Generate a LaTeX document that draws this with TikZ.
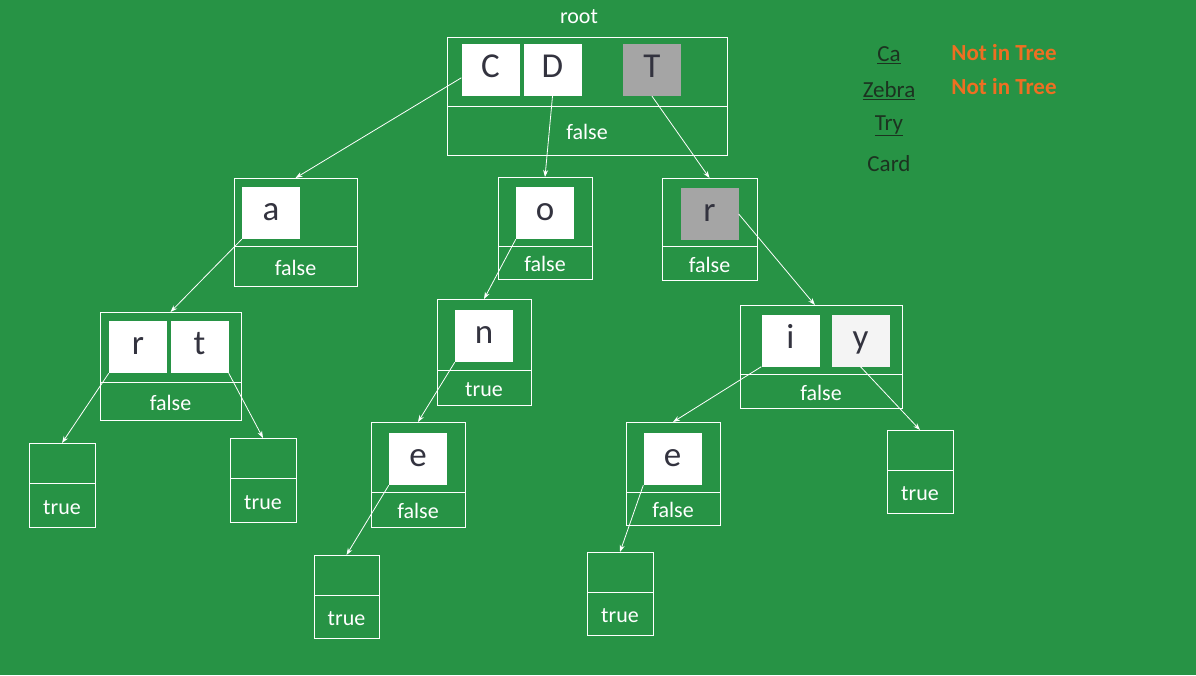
\documentclass[tikz,border=0pt]{standalone}
\usepackage{fontspec}
\setmainfont{Carlito}
\usepackage{xcolor}
\usetikzlibrary{positioning,arrows.meta}
\definecolor{board}{HTML}{279345}
\definecolor{ink}{HTML}{33333F}
\definecolor{ink2}{HTML}{1C3320}
\definecolor{seen}{HTML}{A5A5A5}
\definecolor{pale}{HTML}{F4F4F4}
\definecolor{miss}{HTML}{EE6F22}

\begin{document}
\begin{tikzpicture}[x=1pt, y=-1pt, >={Stealth[length=7pt,width=5pt]},
  cell/.style = {draw=white, line width=0.8pt, outer sep=0pt, inner sep=0pt},
  flag/.style = {cell, text=white, text height=18pt, text depth=0pt, font=\fontsize{22}{24}\selectfont},
  key/.style = {fill=white, text=ink, minimum width=58pt, minimum height=52pt, text height=22pt, text depth=7pt, font=\fontsize{35}{38}\selectfont},
  word/.style = {text=ink2, font=\fontsize{23}{25}\selectfont},
  link/.style = {->, draw=white, line width=0.8pt}]
\fill[board] (0,0) rectangle (1196,675);

% trie nodes: upper cell for keys, lower cell for the end flag
\node[cell, minimum width=280pt, minimum height=69pt] (root) at (587,71.5) {};
\node[flag, minimum width=280pt, minimum height=49pt, below=0pt of root] (rootf) {false};
\node[text=white, font=\fontsize{22}{24}\selectfont] (rootl) at (579,17) {root};

\node[cell, minimum width=123pt, minimum height=68pt] (a) at (295.5,212) {};
\node[flag, minimum width=123pt, minimum height=40pt, below=0pt of a] (af) {false};
\node[cell, minimum width=94pt, minimum height=69pt] (o) at (545,211.5) {};
\node[flag, minimum width=94pt, minimum height=33pt, below=0pt of o] (of) {false};
\node[cell, minimum width=95pt, minimum height=68pt] (r) at (709.5,212) {};
\node[flag, minimum width=95pt, minimum height=34pt, below=0pt of r] (rf) {false};

\node[cell, minimum width=141pt, minimum height=70pt] (rt) at (170.5,347) {};
\node[flag, minimum width=141pt, minimum height=38pt, below=0pt of rt] (rtf) {false};
\node[cell, minimum width=94pt, minimum height=71pt] (n) at (484,334.5) {};
\node[flag, minimum width=94pt, minimum height=35pt, below=0pt of n] (nf) {true};
\node[cell, minimum width=162pt, minimum height=69pt] (iy) at (821,339.5) {};
\node[flag, minimum width=162pt, minimum height=34pt, below=0pt of iy] (iyf) {false};

\node[cell, minimum width=94pt, minimum height=70pt] (e1) at (418,457) {};
\node[flag, minimum width=94pt, minimum height=35pt, below=0pt of e1] (e1f) {false};
\node[cell, minimum width=94pt, minimum height=70pt] (e2) at (673,457) {};
\node[flag, minimum width=94pt, minimum height=33pt, below=0pt of e2] (e2f) {false};

% leaves
\node[cell, minimum width=66pt, minimum height=40pt] (t1) at (62,463) {};
\node[flag, minimum width=66pt, minimum height=44pt, below=0pt of t1] (t1f) {true};
\node[cell, minimum width=66pt, minimum height=40pt] (t2) at (263,458) {};
\node[flag, minimum width=66pt, minimum height=44pt, below=0pt of t2] (t2f) {true};
\node[cell, minimum width=65pt, minimum height=40pt] (t3) at (346.5,575) {};
\node[flag, minimum width=65pt, minimum height=43pt, below=0pt of t3] (t3f) {true};
\node[cell, minimum width=66pt, minimum height=40pt] (t4) at (620,572) {};
\node[flag, minimum width=66pt, minimum height=43pt, below=0pt of t4] (t4f) {true};
\node[cell, minimum width=66pt, minimum height=40pt] (t5) at (920,450) {};
\node[flag, minimum width=66pt, minimum height=43pt, below=0pt of t5] (t5f) {true};

% keys
\node[key] (kC) at (490.5,70) {C};
\node[key] (kD) at (552.5,70) {D};
\node[key, fill=seen] (kT) at (652,70) {T};
\node[key] (ka) at (271,213) {a};
\node[key] (ko) at (545,213) {o};
\node[key, fill=seen] (kr) at (709.5,214) {r};
\node[key] (kr2) at (138,347) {r};
\node[key] (kt) at (199.5,347) {t};
\node[key] (kn) at (484,336) {n};
\node[key] (ki) at (790.5,340.5) {i};
\node[key, fill=pale] (ky) at (860.5,340.5) {y};
\node[key] (ke1) at (418,459) {e};
\node[key] (ke2) at (672.5,459) {e};

\draw[link] (kC.195) -- (a.north);
\draw[link] (kD.south) -- (o.north);
\draw[link] (kT.south) -- (r.north);
\draw[link] (ka.south west) -- (rt.north);
\draw[link] (ko.south west) -- (n.north);
\draw[link] (kr.east) -- (iy.100);
\draw[link] (kr2.south west) -- (t1.north);
\draw[link] (kt.south east) -- (t2.north);
\draw[link] (kn.south west) -- (e1.north);
\draw[link] (ke1.south west) -- (t3.north);
\draw[link] (ki.south west) -- (e2.north);
\draw[link] (ke2.south west) -- (t4.north);
\draw[link] (ky.south) -- (t5.north);

% searched words
\node[word] (w1) at (889,55) {\underline{Ca}};
\node[word] (w2) at (889,91) {\underline{Zebra}};
\node[word] (w3) at (889,126) {\underline{Try}};
\node[word] (w4) at (889,164) {Card};
\node[text=miss, font=\bfseries\fontsize{23}{25}\selectfont] (m1) at (1004,53) {Not in Tree};
\node[text=miss, font=\bfseries\fontsize{23}{25}\selectfont] (m2) at (1004,87) {Not in Tree};
\end{tikzpicture}
\end{document}
